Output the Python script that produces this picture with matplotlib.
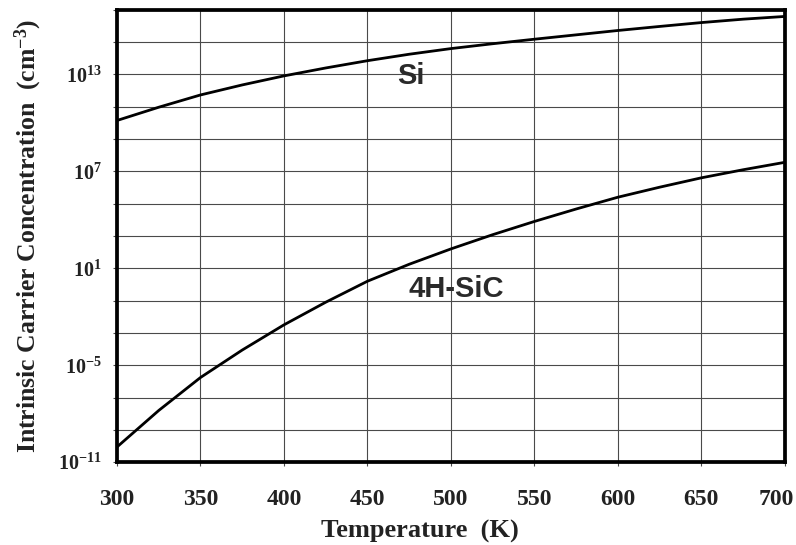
import numpy as np
from matplotlib import pyplot as plt
from matplotlib.ticker import FixedLocator, FixedFormatter
from matplotlib.transforms import ScaledTranslation

plt.rcParams['font.family'] = 'Liberation Serif'
plt.rcParams['font.weight'] = 'bold'
plt.rcParams['axes.labelweight'] = 'bold'
plt.rcParams['mathtext.fontset'] = 'custom'
plt.rcParams['mathtext.rm'] = 'Liberation Serif:bold'
plt.rcParams['mathtext.it'] = 'Liberation Serif:bold'
plt.rcParams['mathtext.bf'] = 'Liberation Serif:bold'

# temperature (K) and log10 of intrinsic carrier concentration (cm^-3)
temps = [300, 325, 350, 375, 400, 425, 450, 475, 500, 525, 550, 575, 600, 625, 650, 675, 700]
si_log = [10.15, 10.97, 11.73, 12.35, 12.91, 13.4, 13.85, 14.25, 14.6, 14.9, 15.18,
          15.45, 15.72, 15.97, 16.21, 16.42, 16.59]
sic_log = [-10.06, -7.8, -5.76, -4.06, -2.5, -1.1, 0.2, 1.25, 2.2, 3.08, 3.9,
           4.67, 5.4, 6.02, 6.6, 7.1, 7.56]

grid_exps = list(range(-11, 18, 2))
label_exps = [-11, -5, 1, 7, 13]
x_ticks = [300, 350, 400, 450, 500, 550, 600, 650, 700]

fig = plt.figure(figsize=(7.96, 5.45), dpi=100)
ax = fig.add_axes([0.147, 0.152, 0.839, 0.830])

T = np.array(temps)
ax.plot(T, 10.0 ** np.array(si_log), color='black', lw=2.0, solid_joinstyle='round')
ax.plot(T, 10.0 ** np.array(sic_log), color='black', lw=2.0, solid_joinstyle='round')

ax.set_yscale('log')
ax.set_xlim(300, 700)
ax.set_ylim(1e-11, 1e17)

ax.xaxis.set_major_locator(FixedLocator(x_ticks))
ax.yaxis.set_major_locator(FixedLocator([10.0 ** e for e in grid_exps]))
ax.yaxis.set_minor_locator(FixedLocator([]))
ylabels = [r'$\mathregular{10^{%d}}$' % e if e in label_exps else '' for e in grid_exps]
ax.yaxis.set_major_formatter(FixedFormatter(ylabels))

ax.grid(True, which='major', color='#4a4a4a', lw=0.8)
ax.tick_params(axis='both', which='major', direction='out', length=3, width=0.8,
               color='#4a4a4a', labelcolor='#222222')
ax.tick_params(axis='x', pad=16, labelsize=17)
ax.tick_params(axis='y', pad=8, labelsize=14.5)

# keep the last temperature label inside the figure
last = ax.get_xticklabels()[-1]
last.set_transform(last.get_transform() + ScaledTranslation(-6 / 72, 0, fig.dpi_scale_trans))

for s in ax.spines.values():
    s.set_linewidth(2.7)
    s.set_color('black')

ax.set_xlabel('Temperature  (K)', fontsize=19, color='#222222')
ax.xaxis.set_label_coords(0.454, -0.128)
ax.set_ylabel(r'Intrinsic Carrier Concentration  (cm$^{-3}$)', fontsize=18.5,
              color='#222222', labelpad=10)

ax.text(476, 10 ** 12.92, 'Si', fontfamily='Liberation Sans', fontweight='bold',
        fontsize=21, color='#2a2a2a', ha='center', va='center')
ax.text(503, 10 ** -0.29, '4H-SiC', fontfamily='Liberation Sans', fontweight='bold',
        fontsize=21, color='#2a2a2a', ha='center', va='center')

fig.savefig('out.png', dpi=100)
